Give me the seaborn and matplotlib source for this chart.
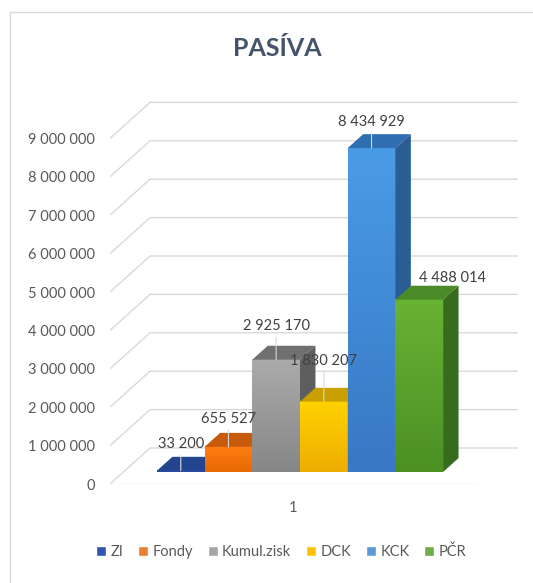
import numpy as np
import pandas as pd
import matplotlib
matplotlib.use("Agg")
import matplotlib.pyplot as plt
import seaborn as sns
from matplotlib.patches import Polygon, Rectangle
from matplotlib.colors import LinearSegmentedColormap

# data
items = ["ZI", "Fondy", "Kumul.zisk", "DCK", "KCK", "PČR"]
values = [33200, 655527, 2925170, 1830207, 8434929, 4488014]
category = "1"
y_ticks = np.arange(0, 9_000_001, 1_000_000)

# styles
front_colors = ["#2C50A5", "#F07818", "#9A9A9A", "#F5BE00", "#4390DA", "#5CA531"]
front_top = ["#3058B0", "#FF7E14", "#ABABAB", "#FFD200", "#4A9BE6", "#68B234"]
front_bottom = ["#2848A0", "#E86800", "#868686", "#EDAE00", "#3878C4", "#4C9024"]
top_colors = ["#23448F", "#C85A0C", "#707070", "#C9A000", "#2F6EB0", "#4A8A28"]
side_colors = ["#1E3A7A", "#A94A08", "#5E5E5E", "#B08A00", "#2A5D94", "#376B1D"]
legend_colors = ["#2F55B0", "#ED7D31", "#A5A5A5", "#FFC000", "#5B9BD5", "#70AD47"]
# label offset from front-top of bar, in pixels (dx, dy), leader line on/off
label_offsets = [(0, 27), (0, 28), (0, 34), (0, 41), (0, 26), (33, 22)]
leaders = [True, True, True, True, True, False]

W, H = 533, 583
PX_X = 357.7          # pixels per x unit
PX_V = 38.4e-6        # pixels per value unit
DX = 40 / PX_X        # floor depth, x
DY = 36 / PX_V        # floor depth, y
F1, F2 = 1 / 3, 0.72  # bar front / back depth


def proj(x, y, d):
    return x + (d - F1) * DX, y + (d - F1) * DY


def fmt(v):
    return f"{v:,}".replace(",", " ")


sns.set_style("white")
plt.rcParams["font.family"] = ["Lato", "DejaVu Sans"]

fig = plt.figure(figsize=(W / 100, H / 100), dpi=100)
ax = fig.add_axes([110 / W, (H - 484) / H, 410 / W, 384 / H])

df = pd.DataFrame({"cat": [category] * len(items), "item": items, "value": values})
sns.barplot(data=df, x="cat", y="value", hue="item", hue_order=items,
            palette=front_colors, saturation=1, ax=ax, errorbar=None)
handles, labels = ax.get_legend_handles_labels()
ax.get_legend().remove()

# walls and gridlines
XL = (110 - 300) / PX_X + F1 * DX
XR = (478 - 300) / PX_X + F1 * DX
grid_kw = dict(color="#D9D9D9", lw=1, zorder=1, solid_capstyle="butt")
for v in y_ticks:
    x0, y0 = proj(XL, v, 0)
    x1, y1 = proj(XL, v, 1)
    x2, y2 = proj(XR, v, 1)
    ax.plot([x0, x1, x2], [y0, y1, y2], **grid_kw)
fl = [proj(XL, 0, 0), proj(XR, 0, 0)]
ax.plot([p[0] for p in fl], [p[1] for p in fl], **grid_kw)

# 3D faces
bdx, bdy = (F2 - F1) * DX, (F2 - F1) * DY
grad = np.linspace(1, 0, 64).reshape(-1, 1)
for i, cont in enumerate(ax.containers):
    rect = cont[0]
    x0, w, h = rect.get_x(), rect.get_width(), rect.get_height()
    z = 3 + i * 0.1
    rect.set_zorder(z)
    rect.set_edgecolor("none")
    cmap = LinearSegmentedColormap.from_list(f"g{i}", [front_bottom[i], front_top[i]])
    ax.imshow(grad, extent=[x0, x0 + w, 0, h], aspect="auto", cmap=cmap,
              vmin=0, vmax=1, zorder=z + 0.005, interpolation="bilinear")
    top = Polygon([(x0, h), (x0 + w, h), (x0 + w + bdx, h + bdy), (x0 + bdx, h + bdy)],
                  closed=True, fc=top_colors[i], ec="none", zorder=z + 0.01)
    side = Polygon([(x0 + w, 0), (x0 + w, h), (x0 + w + bdx, h + bdy), (x0 + w + bdx, bdy)],
                   closed=True, fc=side_colors[i], ec="none", zorder=z + 0.02)
    ax.add_patch(top)
    ax.add_patch(side)
    dx, dy = label_offsets[i]
    arrow = dict(arrowstyle="-", color="#D8D8D8", lw=0.8, shrinkA=1, shrinkB=0) if leaders[i] else None
    ax.annotate(fmt(values[i]), xy=(x0 + w / 2, h), xytext=(dx, dy),
                textcoords="offset pixels", ha="center", va="center",
                fontsize=10.5, color="#404040", zorder=10, arrowprops=arrow)

ax.set_xlim((110 - 300) / PX_X, (520 - 300) / PX_X)
ax.set_ylim(-12 / PX_V, 372 / PX_V)
ax.set_yticks(y_ticks - F1 * DY, [fmt(v) for v in y_ticks])
ax.set_xticks([-0.02], [category])
ax.tick_params(axis="both", length=0, labelsize=10.5, labelcolor="#595959")
ax.tick_params(axis="y", pad=11)
ax.tick_params(axis="x", pad=12)
ax.set_xlabel("")
ax.set_ylabel("")
for s in ax.spines.values():
    s.set_visible(False)
ax.patch.set_alpha(0)

fig.text(277 / W, 1 - 49 / H, "PASÍVA", ha="center", va="center",
         fontsize=18, fontweight="bold", color="#44546A")

for hdl, c in zip(handles, legend_colors):
    hdl.set_facecolor(c)
fig.legend(handles, labels, loc="center", bbox_to_anchor=(281 / W, 1 - 552 / H),
           ncol=6, frameon=False, fontsize=10.5, labelcolor="#595959",
           handlelength=0.7, handleheight=0.7, handletextpad=0.3, columnspacing=1.0)

fig.add_artist(Rectangle((10 / W, -0.1), 2, 1 - 12 / H + 0.1, transform=fig.transFigure,
                         fill=False, ec="#D9D9D9", lw=1))

fig.savefig("out.png", dpi=100)
